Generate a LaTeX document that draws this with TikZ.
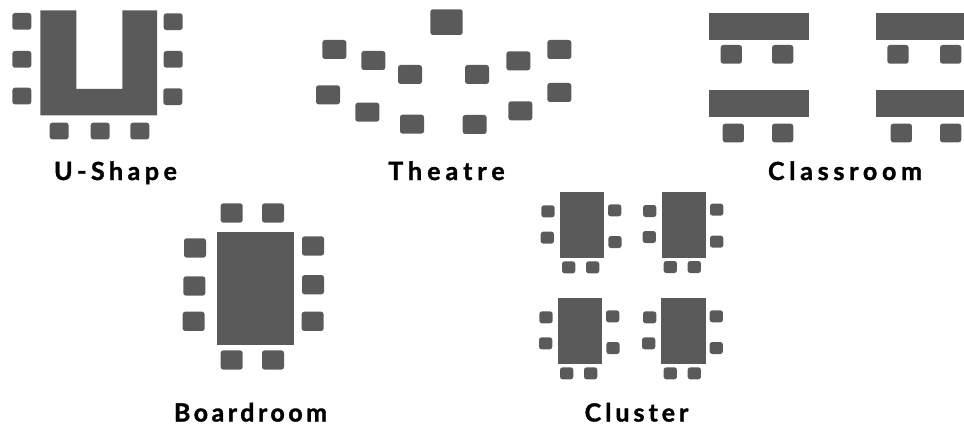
\documentclass[tikz,border=0pt]{standalone}
\usepackage{fontspec}
\setmainfont{Lato}
\definecolor{ink}{HTML}{5A5A5A}
\newfontfamily\lblU[LetterSpace=18,FakeBold=1.4]{Lato Bold}
\newfontfamily\lblT[LetterSpace=20,FakeBold=1.4]{Lato Bold}
\newfontfamily\lblC[LetterSpace=19,FakeBold=1.4]{Lato Bold}
\newfontfamily\lblB[LetterSpace=14,FakeBold=1.4]{Lato Bold}
\newfontfamily\lblK[LetterSpace=16,FakeBold=1.4]{Lato Bold}
\newcommand{\seatsAt}[5]{% x-off, y-off, w, h, list of zoom coords
  \foreach \sx/\sy in {#5}
    \fill[seatshape] ({#1+\sx/3},{#2+\sy/3}) rectangle ++(#3,#4);}
\tikzset{
  seatshape/.style={fill=ink,rounded corners=2.6pt},
  tableshape/.style={fill=ink},
  caption/.style={anchor=base,inner sep=0pt,text=black}
}
\newcommand{\capsize}{\fontsize{25}{28}\selectfont}
\begin{document}
\begin{tikzpicture}[x=1pt,y=-1pt]
\useasboundingbox (0,0) rectangle (964,425);
% U-Shape
\fill[tableshape] (40.3,10.3) -- (76.3,10.3) -- (76.3,89) -- (122.3,89) -- (122.3,10.3) -- (157,10.3) -- (157,115.3) -- (40.3,115.3) -- cycle;
\seatsAt{0}{0}{19}{16.7}{37/39,37/153,37/263,491/40,491/153,490/265,149/368,272/368,391/368}
\node[caption,font=\lblU\capsize] (ushape) at (115.5,180) {U-Shape};
% Theatre
\fill[seatshape] (430.3,9.3) rectangle (462.7,35);
\seatsAt{310}{0}{24}{19}{37/120,154/153,264/195,465/195,589/154,712/120,18/256,136/308,270/344,458/345,595/304,712/249}
\node[caption,font=\lblT\capsize] (theatre) at (446.5,180) {Theatre};
% Classroom
\fill[tableshape] (709.3,13.3) rectangle (808.7,40.3);
\fill[tableshape] (709.3,90) rectangle (808.7,117.3);
\fill[tableshape] (876,13.3) rectangle (964,40.3);
\fill[tableshape] (876,90) rectangle (964,117.3);
\seatsAt{690}{0}{21.3}{18.7}{92/135,246/135,592/135,750/135,98/371,246/371,602/371,750/371}
\node[caption,font=\lblC\capsize] (classroom) at (845,180) {Classroom};
% Boardroom
\fill[tableshape] (216.7,231.7) rectangle (294,345);
\seatsAt{160}{195}{22}{19.3}{182/25,306/25,72/130,426/124,70/244,426/240,68/350,425/350,182/466,306/466}
\node[caption,font=\lblB\capsize] (boardroom) at (250.5,421.5) {Boardroom};
% Cluster
\fill[tableshape] (560,192.3) rectangle (604.3,258.3);
\fill[tableshape] (662.3,192.3) rectangle (706.3,258.3);
\fill[tableshape] (558.3,297.7) rectangle (602.3,363.7);
\fill[tableshape] (660.7,297.7) rectangle (706.3,363.7);
\seatsAt{530}{185}{13.3}{12}{34/61,234/58,32/140,235/153,339/60,540/56,338/138,540/152,96/229,168/229,401/228,473/228,28/379,228/376,27/457,229/471,339/379,539/376,336/457,539/471,90/547,162/547,401/547,473/547}
\node[caption,font=\lblK\capsize] (cluster) at (636.5,421.5) {Cluster};
\end{tikzpicture}
\end{document}
